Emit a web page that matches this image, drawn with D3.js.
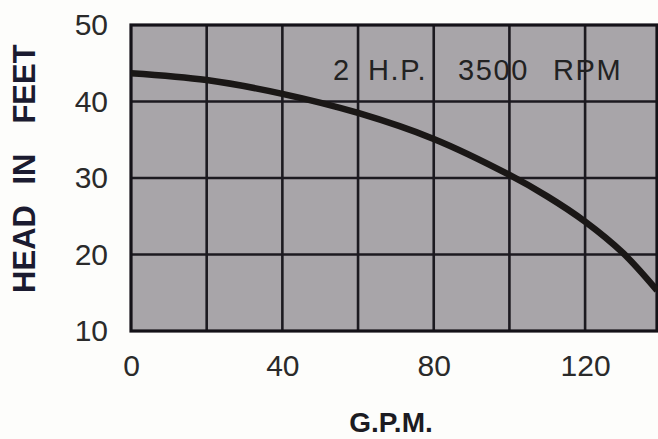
<!DOCTYPE html>
<html>
<head>
<meta charset="utf-8">
<script src="https://cdn.jsdelivr.net/npm/d3@7"></script>
<style>
  body { margin: 0; background: #fdfdfb; }
  svg { display: block; }
  text { font-family: "Liberation Sans", Arial, sans-serif; }
</style>
</head>
<body>
<svg width="658" height="439"></svg>
<script>
// pump curve
let gpm  = [0, 20, 40, 60, 80, 100, 110, 120, 130, 139];
let head = [43.7, 42.8, 41.0, 38.5, 35.1, 30.4, 27.6, 24.3, 20.2, 15.3];

let xTicks = [0, 40, 80, 120];
let xGrid  = [20, 40, 60, 80, 100, 120];
let yGrid  = [20, 30, 40];
let yTicks = [10, 20, 30, 40, 50];
let labelWords = ["2", "H.P.", "3500", "RPM"];
let yTitleWords = ["HEAD", "IN", "FEET"];

let svg = d3.select("svg");

// scales
let x = d3.scaleLinear().domain([0, 139]).range([131, 657]);
let y = d3.scaleLinear().domain([10, 50]).range([331, 25]);

// gray plot area
svg.append("rect")
    .attr("x", x(0))
    .attr("y", y(50))
    .attr("width", x(139) - x(0))
    .attr("height", y(10) - y(50))
    .attr("fill", "#a8a5a9");

// grid
let grid = svg.append("g").attr("stroke", "#1c1a20").attr("stroke-width", 2.6);
grid.selectAll(".vg")
    .data(xGrid)
    .enter()
    .append("line")
    .attr("x1", d => x(d)).attr("x2", d => x(d))
    .attr("y1", y(50)).attr("y2", y(10));
grid.selectAll(".hg")
    .data(yGrid)
    .enter()
    .append("line")
    .attr("x1", x(0)).attr("x2", x(139))
    .attr("y1", d => y(d)).attr("y2", d => y(d));

// border
svg.append("rect")
    .attr("x", x(0))
    .attr("y", y(50))
    .attr("width", x(139) - x(0))
    .attr("height", y(10) - y(50))
    .attr("fill", "none")
    .attr("stroke", "#141218")
    .attr("stroke-width", 3.2);

// axes, only labels shown
let xAxis = svg.append("g")
    .attr("transform", "translate(0," + y(10) + ")")
    .call(d3.axisBottom(x).tickValues(xTicks).tickSize(0).tickPadding(24));
let yAxis = svg.append("g")
    .attr("transform", "translate(" + x(0) + ",0)")
    .call(d3.axisLeft(y).tickValues(yTicks).tickSize(0).tickPadding(23));
[xAxis, yAxis].forEach(a => {
    a.select(".domain").remove();
    a.selectAll("text")
        .attr("font-size", 30)
        .attr("fill", "#2a2a2a")
        .attr("font-family", "Liberation Sans, Arial, sans-serif");
});

// curve
let line = d3.line()
    .x((d, i) => x(gpm[i]))
    .y(d => y(d))
    .curve(d3.curveCatmullRom);

svg.append("path")
    .datum(head)
    .attr("d", line)
    .attr("fill", "none")
    .attr("stroke", "#1a1716")
    .attr("stroke-width", 6.5);

// label inside plot - words spread out like the print
let labelX = [333, 368, 458, 553];
let lbl = svg.append("text")
    .attr("y", 80)
    .attr("font-size", 29)
    .attr("letter-spacing", 1.6)
    .attr("fill", "#222");
lbl.selectAll("tspan")
    .data(labelWords)
    .enter()
    .append("tspan")
    .attr("x", (d, i) => labelX[i])
    .text(d => d);

// axis titles
svg.append("text")
    .attr("x", 391)
    .attr("y", 432)
    .attr("text-anchor", "middle")
    .attr("font-size", 28)
    .attr("font-weight", "bold")
    .attr("fill", "#1b1b22")
    .text("G.P.M.");

// HEAD IN FEET, one word at a time so gaps match
let yTitleMid = [249, 169, 84];
svg.selectAll(".ytitle")
    .data(yTitleWords)
    .enter()
    .append("text")
    .attr("transform", (d, i) => "translate(35," + yTitleMid[i] + ") rotate(-90)")
    .attr("text-anchor", "middle")
    .attr("font-size", 31)
    .attr("font-weight", "bold")
    .attr("fill", "#1b1b30")
    .text(d => d);
</script>
</body>
</html>
